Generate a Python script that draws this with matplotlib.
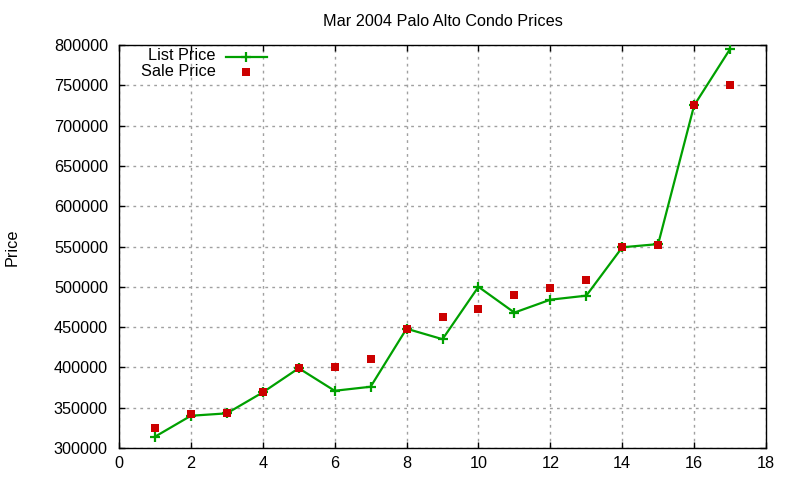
import matplotlib
matplotlib.use("Agg")
import matplotlib.pyplot as plt

plt.rcParams['font.family'] = ['Liberation Sans', 'DejaVu Sans']

x = list(range(1, 18))
list_price = [314000, 340000, 343000, 369000, 399000, 371000, 376000, 448000, 435000,
              500000, 468000, 484000, 489000, 549000, 553000, 725000, 795000]
sale_price = [325000, 342000, 344000, 369000, 399000, 400000, 411000, 448000, 462000,
              472000, 490000, 498000, 508000, 549000, 552000, 725000, 750000]
title = "Mar 2004 Palo Alto Condo Prices"
ylabel = "Price"
xticks = list(range(0, 19, 2))
yticks = list(range(300000, 800001, 50000))

GREEN = '#00a000'
RED = '#cc0000'
FS = 11.7

fig = plt.figure(figsize=(8, 4.8), dpi=100)
L, R, T, B = 119, 766, 45, 448
ax = fig.add_axes([L / 800, 1 - B / 480, (R - L) / 800, (B - T) / 480])

ax.plot(x, list_price, color=GREEN, lw=1.6, marker='+', ms=7, mew=1.6, zorder=3)
ax.plot(x, sale_price, ls='none', marker='s', color=RED, ms=6.3, mew=0, zorder=4)

ax.set_xlim(0, 18)
ax.set_ylim(300000, 800000)
ax.set_xticks(xticks)
ax.set_yticks(yticks)
ax.set_xticklabels([str(t) for t in xticks])
ax.set_yticklabels([str(t) for t in yticks])
ax.tick_params(direction='in', length=4, width=1, top=True, right=True,
               labelsize=FS, colors='black')
ax.tick_params(axis='y', pad=8)
ax.tick_params(axis='x', pad=6)
ax.grid(True, color='#a0a0a0', ls=(0, (2, 3)), lw=1)
ax.set_axisbelow(True)
for s in ax.spines.values():
    s.set_linewidth(1)

ax.set_title(title, fontsize=FS, pad=14)
fig.text(12 / 800, 1 - 247 / 480, ylabel, rotation=90, ha='center', va='center',
         fontsize=FS)

# legend (gnuplot style: right-aligned text, sample on the right)
def ax_xy(px, py):
    return (px - L) / (R - L), (B - py) / (B - T)

tx, ty = ax_xy(216, 56)
ax.text(tx, ty, "List Price", transform=ax.transAxes, ha='right', va='center', fontsize=FS)
x0, y0 = ax_xy(226, 57)
x1, _ = ax_xy(267, 57)
xm, _ = ax_xy(246, 57)
ax.plot([x0, x1], [y0, y0], transform=ax.transAxes, color=GREEN, lw=1.6, clip_on=False)
ax.plot([xm], [y0], transform=ax.transAxes, color=GREEN, marker='+', ms=7, mew=1.6,
        clip_on=False)
tx, ty = ax_xy(216, 71)
ax.text(tx, ty, "Sale Price", transform=ax.transAxes, ha='right', va='center', fontsize=FS)
xm, ym = ax_xy(246, 72)
ax.plot([xm], [ym], transform=ax.transAxes, ls='none', marker='s', color=RED, ms=6.3,
        mew=0, clip_on=False)

fig.savefig("out.png", dpi=100)
